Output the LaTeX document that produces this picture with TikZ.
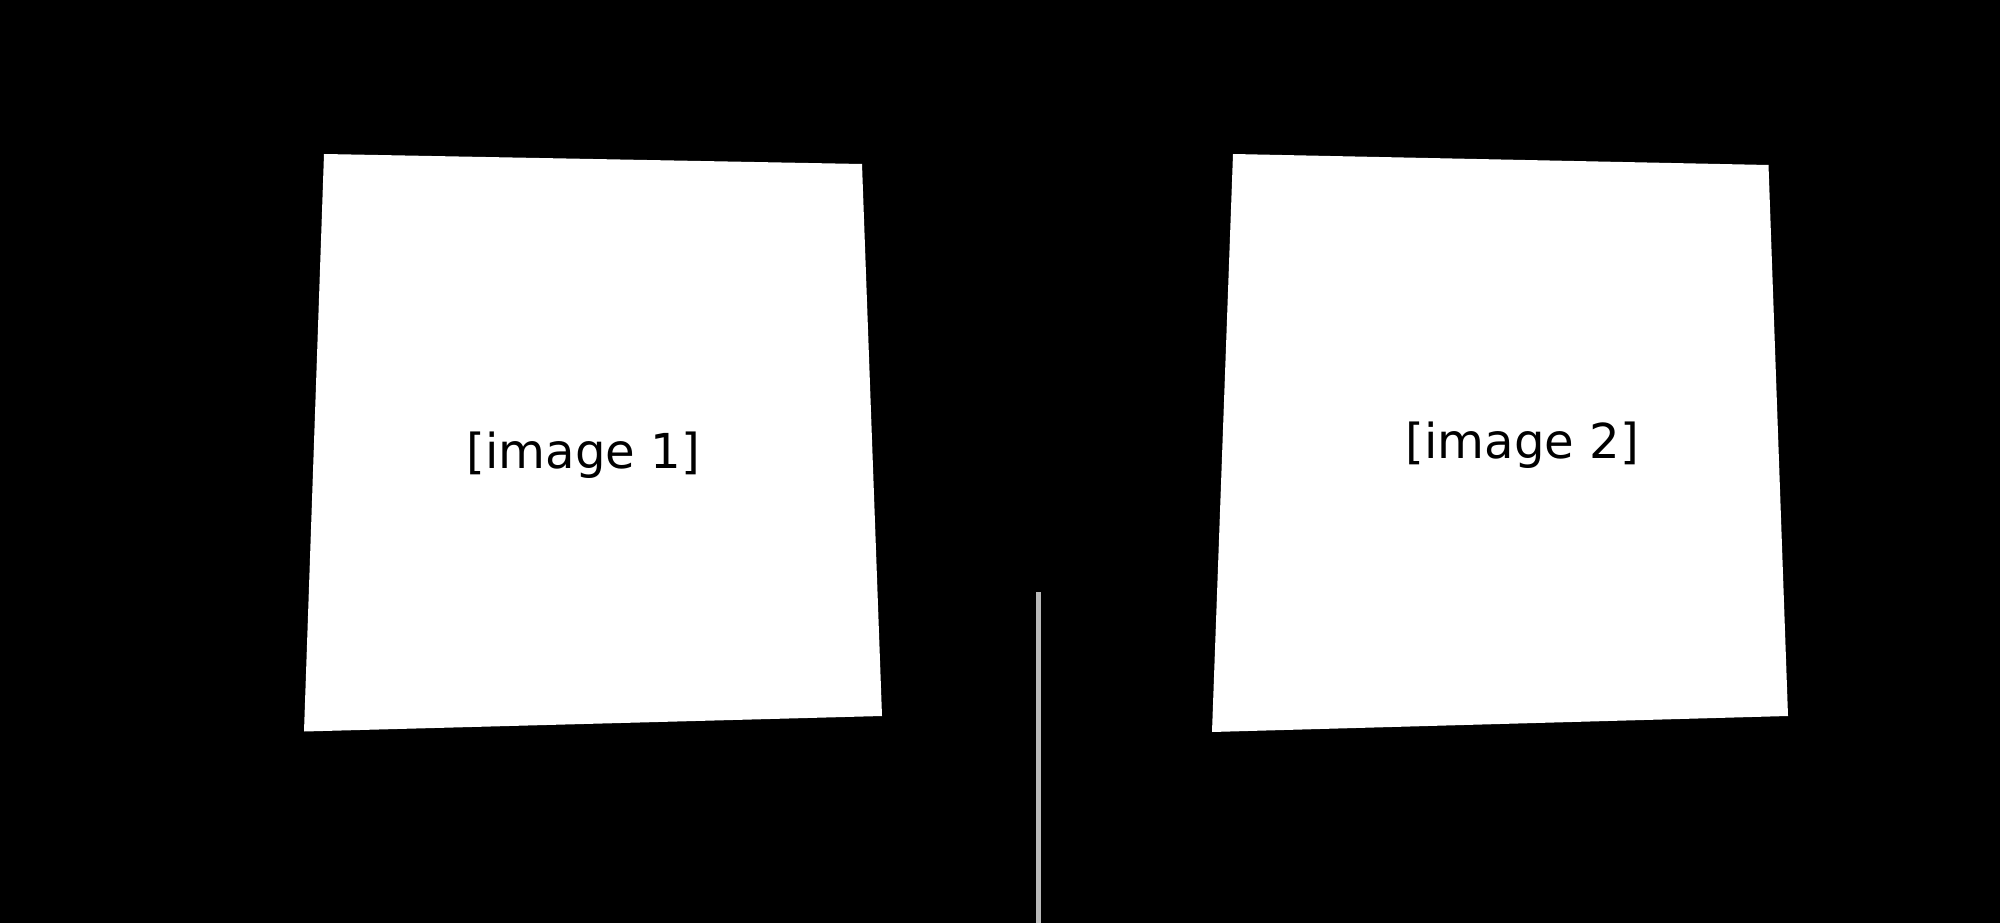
\documentclass[tikz,border=0pt]{standalone}
\usepackage{fontspec}
\setmainfont{DejaVu Sans}
\tikzset{
    card/.style={fill=white},
    cardlabel/.style={anchor=base,inner sep=0pt,font=\fontsize{13.7pt}{16pt}\selectfont,text=black},
    divider/.style={draw=gray!55,line width=1.42pt},
}

\begin{document}
\begin{tikzpicture}
    \fill[black] (0,0) rectangle (20,9.23);
    \useasboundingbox (0,0) rectangle (20,9.23);

    \coordinate (a1) at (3.24,7.69);
    \coordinate (a2) at (8.62,7.59);
    \coordinate (a3) at (8.82,2.07);
    \coordinate (a4) at (3.04,1.915);

    \coordinate (b1) at (12.33,7.69);
    \coordinate (b2) at (17.685,7.58);
    \coordinate (b3) at (17.88,2.07);
    \coordinate (b4) at (12.12,1.91);

    \coordinate (c1) at (10.385,3.31);
    \coordinate (c2) at (10.385,0);

    \path[card] (a1) -- (a2) -- (a3) -- (a4) -- cycle;
    \path[card] (b1) -- (b2) -- (b3) -- (b4) -- cycle;

    \node[cardlabel] (l1) at (5.835,4.55) {[image 1]};
    \node[cardlabel] (l2) at (15.225,4.65) {[image 2]};

    \draw[divider] (c1) -- (c2);
\end{tikzpicture}
\end{document}
